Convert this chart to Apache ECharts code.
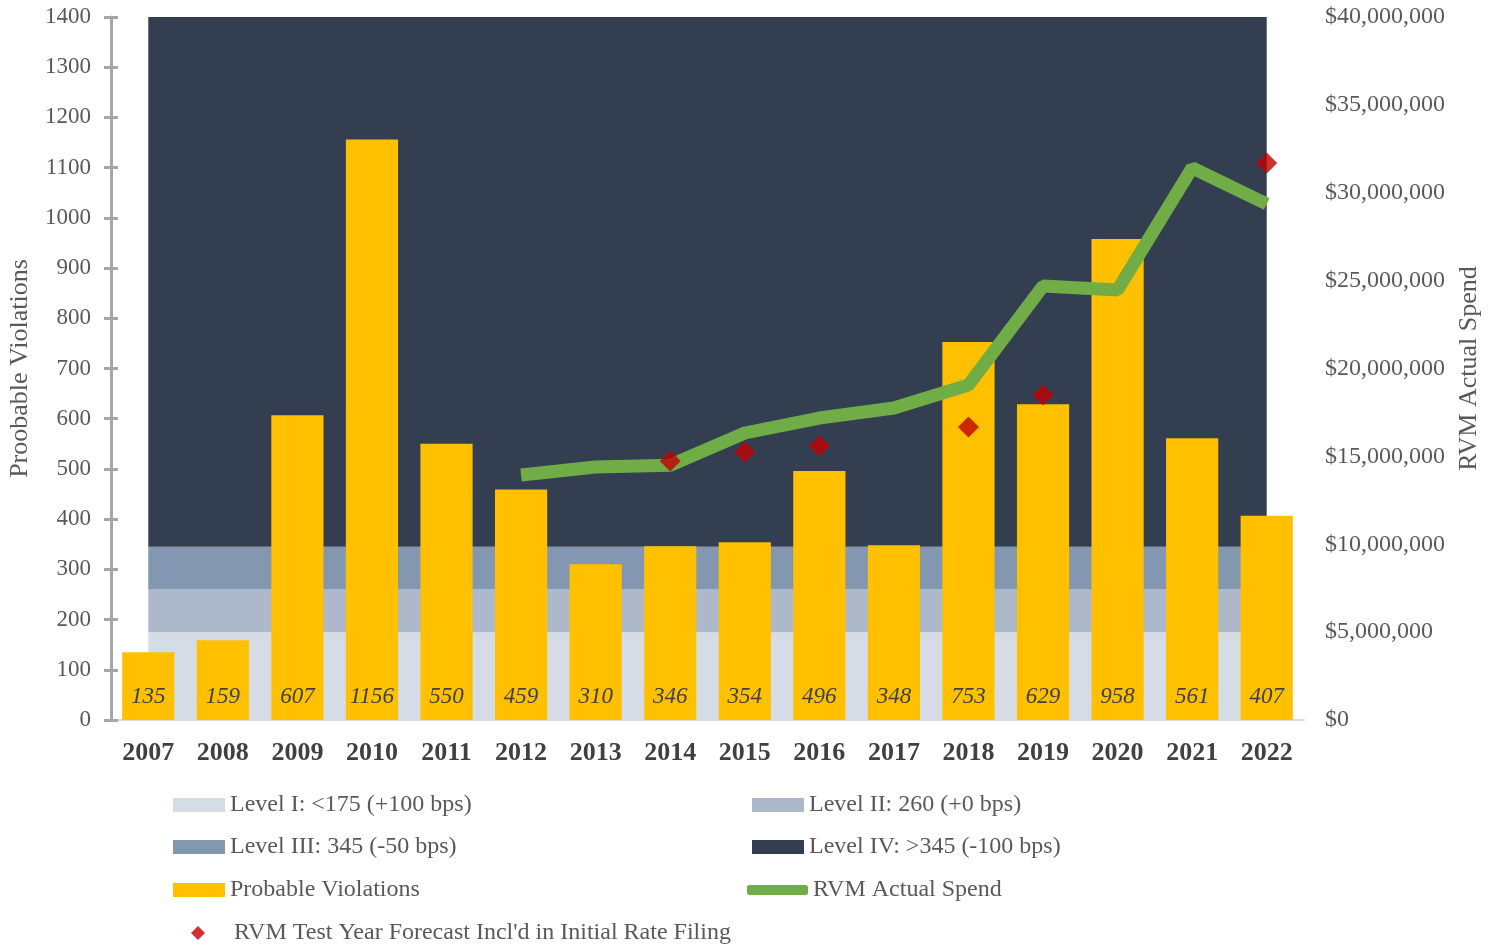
<!DOCTYPE html>
<html>
<head>
<meta charset="utf-8">
<script src="https://cdn.jsdelivr.net/npm/echarts@6/dist/echarts.min.js"></script>
<style>
  html, body { margin: 0; padding: 0; background: #fff; }
  #chart { width: 1499px; height: 948px; }
</style>
</head>
<body>
<div id="chart"></div>
<script>
var years = ['2007', '2008', '2009', '2010', '2011', '2012', '2013', '2014', '2015', '2016', '2017', '2018', '2019', '2020', '2021', '2022']
var violations = [135, 159, 607, 1156, 550, 459, 310, 346, 354, 496, 348, 753, 629, 958, 561, 407]
var actualSpend = [null, null, null, null, null, 13940000, 14400000, 14500000, 16330000, 17180000, 17750000, 19060000, 24690000, 24470000, 31410000, 29360000]
var forecast = [null, null, null, null, null, null, null, 14740000, 15250000, 15590000, null, 16670000, 18490000, null, null, 31690000]
// level thresholds (probable violations)
var levels = [
  { name: 'Level I: <175 (+100 bps)', from: 0, to: 175, color: '#d6dce5' },
  { name: 'Level II: 260 (+0 bps)', from: 175, to: 260, color: '#adb9ca' },
  { name: 'Level III: 345 (-50 bps)', from: 260, to: 345, color: '#8497b0' },
  { name: 'Level IV: >345 (-100 bps)', from: 345, to: 1400, color: '#333f50' }
]

var font = 'Liberation Serif'
var chart = echarts.init(document.getElementById('chart'))

function legendAt (name, left, top, icon, w, h, textPad) {
  return {
    data: [{ name: name, icon: icon }],
    left: left,
    top: top,
    padding: 0,
    itemWidth: w,
    itemHeight: h,
    selectedMode: false,
    textStyle: { fontFamily: font, fontSize: 24, color: '#595959', padding: [0, 0, 0, textPad || 0] }
  }
}

var levelSeries = levels.map(function (lv) {
  return {
    name: lv.name,
    type: 'line',
    data: [],
    z: 0,
    itemStyle: { color: lv.color },
    markArea: {
      silent: true,
      itemStyle: { color: lv.color, opacity: 1 },
      data: [[{ xAxis: years[0], yAxis: lv.from }, { xAxis: years[years.length - 1], yAxis: lv.to }]]
    }
  }
})

var option = {
  animation: false,
  legend: [
    legendAt(levels[0].name, 173, 793, 'rect', 52, 14),
    legendAt(levels[1].name, 752, 793, 'rect', 52, 14),
    legendAt(levels[2].name, 173, 835, 'rect', 52, 14),
    legendAt(levels[3].name, 752, 835, 'rect', 52, 14),
    legendAt('Probable Violations', 173, 878, 'rect', 52, 14),
    legendAt('RVM Actual Spend', 747, 878, 'roundRect', 61, 10),
    legendAt('RVM Test Year Forecast Incl\'d in Initial Rate Filing', 191, 921, 'diamond', 14, 14, 24)
  ],
  grid: { left: 111, right: 195, top: 17, bottom: 228, outerBoundsMode: 'none' },
  xAxis: {
    type: 'category',
    data: years,
    axisLine: { lineStyle: { color: '#d9d9d9', width: 2 } },
    axisTick: { show: false },
    axisLabel: { fontFamily: font, fontSize: 26, fontWeight: 'bold', color: '#404040', margin: 20 }
  },
  yAxis: [
    {
      type: 'value',
      min: 0,
      max: 1400,
      interval: 100,
      name: 'Proobable Violations',
      nameLocation: 'middle',
      nameGap: 78,
      nameTextStyle: { fontFamily: font, fontSize: 26, color: '#595959' },
      axisLine: { show: true, lineStyle: { color: '#a6a6a6', width: 3 } },
      axisTick: { show: true, length: 7, lineStyle: { color: '#a6a6a6', width: 3 } },
      axisLabel: { fontFamily: font, fontSize: 23, color: '#595959', margin: 20, formatter: function (v) { return String(v) } },
      splitLine: { show: false }
    },
    {
      type: 'value',
      min: 0,
      max: 40000000,
      interval: 5000000,
      position: 'right',
      name: 'RVM Actual Spend',
      nameLocation: 'middle',
      nameGap: 152,
      nameRotate: 90,
      nameTextStyle: { fontFamily: font, fontSize: 26, color: '#595959' },
      axisLine: { show: false },
      axisTick: { show: false },
      axisLabel: {
        fontFamily: font, fontSize: 24, color: '#595959', margin: 21,
        formatter: function (v) { return '$' + v.toLocaleString('en-US') }
      },
      splitLine: { show: false }
    },
    {
      // second copy of the left axis so ticks cross the axis line
      type: 'value',
      min: 0,
      max: 1400,
      interval: 100,
      position: 'left',
      axisLine: { show: false },
      axisTick: { show: true, inside: true, length: 7, lineStyle: { color: '#a6a6a6', width: 3 } },
      axisLabel: { show: false },
      splitLine: { show: false }
    }
  ],
  series: levelSeries.concat([
    {
      name: 'Probable Violations',
      type: 'bar',
      data: violations,
      barWidth: '70%',
      z: 2,
      itemStyle: { color: '#ffc000' },
      label: {
        show: true,
        position: 'insideBottom',
        distance: 12,
        fontFamily: font,
        fontSize: 23,
        fontStyle: 'italic',
        color: '#404040'
      }
    },
    {
      name: 'RVM Actual Spend',
      type: 'line',
      yAxisIndex: 1,
      data: actualSpend,
      z: 3,
      showSymbol: false,
      symbol: 'none',
      itemStyle: { color: '#70ad47' },
      lineStyle: { color: '#70ad47', width: 13 }
    },
    {
      name: 'RVM Test Year Forecast Incl\'d in Initial Rate Filing',
      type: 'scatter',
      yAxisIndex: 1,
      data: forecast,
      z: 4,
      symbol: 'diamond',
      symbolSize: 21,
      itemStyle: { color: '#c00000' }
    }
  ])
}

chart.setOption(option)
</script>
</body>
</html>
